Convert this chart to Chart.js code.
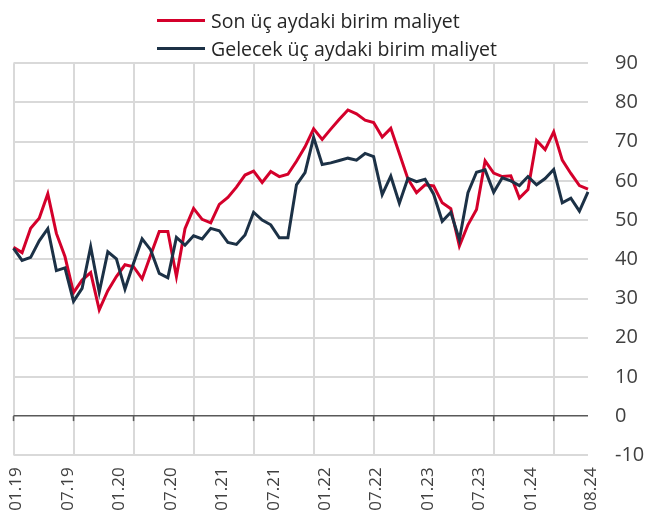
<!DOCTYPE html>
<html><head><meta charset="utf-8">
<script src="https://cdn.jsdelivr.net/npm/chart.js@4"></script>
<style>
html,body{margin:0;padding:0;background:#fff;}
#wrap{position:relative;width:647px;height:520px;}
canvas{position:absolute;left:0;top:0;}
#legend{position:absolute;left:157px;top:6px;font-family:'Open Sans',sans-serif;font-size:19.5px;color:#262626;}
.row{height:28px;display:flex;align-items:center;white-space:nowrap;}
.sw{display:inline-block;width:48px;height:3px;margin-right:6px;}
</style></head>
<body><div id="wrap"><canvas id="c" width="647" height="520"></canvas><div id="legend"></div></div>
<script>
const months = ["01.19","02.19","03.19","04.19","05.19","06.19","07.19","08.19","09.19","10.19","11.19","12.19",
"01.20","02.20","03.20","04.20","05.20","06.20","07.20","08.20","09.20","10.20","11.20","12.20",
"01.21","02.21","03.21","04.21","05.21","06.21","07.21","08.21","09.21","10.21","11.21","12.21",
"01.22","02.22","03.22","04.22","05.22","06.22","07.22","08.22","09.22","10.22","11.22","12.22",
"01.23","02.23","03.23","04.23","05.23","06.23","07.23","08.23","09.23","10.23","11.23","12.23",
"01.24","02.24","03.24","04.24","05.24","06.24","07.24","08.24"];
const shownTicks = ["01.19","07.19","01.20","07.20","01.21","07.21","01.22","07.22","01.23","07.23","01.24","08.24"];
const sonUcAy = [43.1,41.7,47.9,50.5,56.7,46.6,40.7,31.5,34.7,36.6,27.1,32.0,
35.6,38.6,38.1,35.0,41.1,47.1,47.1,35.6,47.8,53.0,50.2,49.3,
54.0,55.8,58.4,61.5,62.5,59.6,62.4,61.1,61.7,65.0,68.7,73.3,
70.6,73.2,75.7,78.1,77.1,75.5,74.9,71.2,73.4,67.0,60.5,57.0,
59.0,58.7,54.4,52.9,43.4,48.8,52.7,65.1,62.0,61.1,61.3,55.6,
57.8,70.3,68.0,72.5,65.3,61.9,58.8,57.9];
const gelecekUcAy = [42.8,39.7,40.5,44.7,47.8,37.1,37.8,29.3,32.6,43.2,31.6,41.9,
40.1,32.4,39.0,45.2,42.4,36.4,35.3,45.6,43.6,46.0,45.2,47.9,
47.3,44.3,43.8,46.2,52.0,50.0,48.8,45.5,45.5,59.0,62.1,71.1,
64.2,64.6,65.2,65.8,65.3,67.0,66.2,56.5,61.2,54.3,60.7,59.8,
60.4,56.6,49.7,52.0,45.0,57.0,62.2,62.8,57.1,60.8,60.0,58.8,
61.1,59.0,60.6,62.9,54.4,55.6,52.3,57.2];
const seriesNames = ["Son üç aydaki birim maliyet","Gelecek üç aydaki birim maliyet"];
const RED = '#d4002b', NAVY = '#1c3146';
const GRID_EVERY = 7;

const leg = document.getElementById('legend');
[[seriesNames[0],RED],[seriesNames[1],NAVY]].forEach(([t,c])=>{
  const r=document.createElement('div'); r.className='row';
  const s=document.createElement('span'); s.className='sw'; s.style.background=c;
  r.appendChild(s); r.appendChild(document.createTextNode(t)); leg.appendChild(r);
});

const zeroTicks = {id:'zeroTicks', afterDatasetsDraw(chart){
  const xs=chart.scales.x, ys=chart.scales.y, c=chart.ctx; const y0=ys.getPixelForValue(0);
  c.save(); c.strokeStyle='#595959'; c.lineWidth=1.5;
  for(let i=0;i<months.length-1;i+=GRID_EVERY){const x=xs.getPixelForValue(i); c.beginPath(); c.moveTo(x,y0); c.lineTo(x,y0+5); c.stroke();}
  c.restore();
}};

new Chart(document.getElementById('c'), {
  type:'line',
  data:{labels:months, datasets:[
    {label:seriesNames[0], data:sonUcAy, borderColor:RED, borderWidth:3, pointRadius:0, tension:0, fill:false, order:1},
    {label:seriesNames[1], data:gelecekUcAy, borderColor:NAVY, borderWidth:3, pointRadius:0, tension:0, fill:false, order:0}
  ]},
  options:{
    responsive:false, animation:false,
    layout:{padding:{left:13.5, top:63.3, right:0, bottom:0}},
    plugins:{legend:{display:false}, tooltip:{enabled:false}},
    scales:{
      x:{type:'category', offset:false,
        grid:{color:(c)=> (c.index%GRID_EVERY===0 && c.index<months.length-1) ? '#d9d9d9' : 'rgba(0,0,0,0)', lineWidth:2, drawTicks:false},
        border:{display:false},
        ticks:{autoSkip:false, maxRotation:90, minRotation:90, padding:12, labelOffset:3, color:'#404040',
          font:{family:'Open Sans', size:17},
          callback:(v,i)=> shownTicks.includes(months[i]) ? months[i] : ''},
        afterFit:(s)=>{s.height=64.7;}
      },
      y:{position:'right', min:-10, max:90,
        ticks:{stepSize:10, padding:27, color:'#404040', font:{family:'Open Sans', size:20}},
        grid:{color:(c)=> c.tick.value===0 ? '#595959' : '#d9d9d9', lineWidth:(c)=> c.tick.value===0 ? 1.5 : 2, drawTicks:false},
        border:{display:false},
        afterFit:(s)=>{s.width=59;}
      }
    }
  },
  plugins:[zeroTicks]
});
</script></body></html>
